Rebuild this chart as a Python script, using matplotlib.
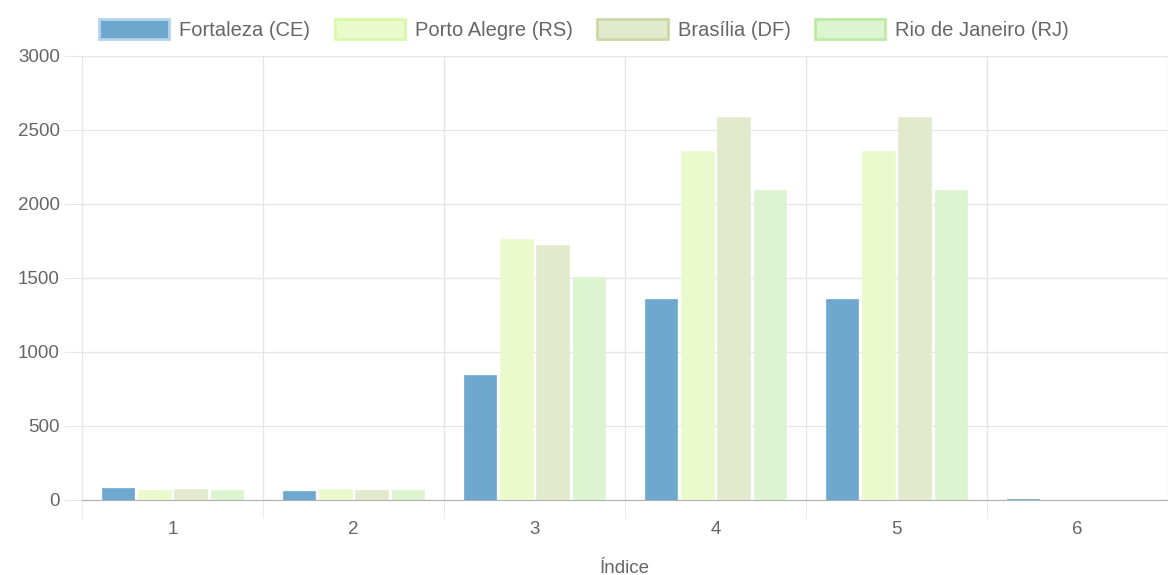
import numpy as np
import matplotlib.pyplot as plt
from matplotlib.patches import Patch

plt.rcParams['font.family'] = ['Liberation Sans', 'DejaVu Sans']

indices = [1, 2, 3, 4, 5, 6]
series = ['Fortaleza (CE)', 'Porto Alegre (RS)', 'Brasília (DF)', 'Rio de Janeiro (RJ)']
fortaleza = [79, 59, 845, 1360, 1360, 10]
porto_alegre = [68, 72, 1765, 2358, 2358, 3]
brasilia = [77, 70, 1725, 2590, 2590, 3]
rio = [66, 70, 1505, 2092, 2092, 3]

fills = ['#6fa8ce', '#ebfacd', '#e2eace', '#dcf4cf']
borders = ['#b3d4ec', '#d9f8a9', '#ccd8a3', '#bfeaa6']
grid_c = '#e6e6e6'
text_c = '#666666'

fig = plt.figure(figsize=(11.68, 5.75), dpi=100)
ax = fig.add_axes([82 / 1168, 75 / 575, 1086 / 1168, 444 / 575])

x = np.array(indices)
group = 0.8
slot = group / len(series)
for k, vals in enumerate([fortaleza, porto_alegre, brasilia, rio]):
    off = -group / 2 + slot * (k + 0.5)
    ax.bar(x + off, vals, width=slot * 0.9, color=fills[k],
           edgecolor=fills[k], linewidth=0.5, zorder=3)

ax.set_xlim(0.5, 6.5)
ax.set_ylim(0, 3000)
ax.set_yticks(np.arange(0, 3001, 500))
ax.set_xticks(indices)
ax.set_xticks(np.arange(0.5, 7, 1), minor=True)

ax.grid(axis='y', color=grid_c, linewidth=1, zorder=0)
ax.grid(axis='x', which='minor', color=grid_c, linewidth=1, zorder=0)
ax.tick_params(axis='y', length=13, color=grid_c, labelsize=13.5, labelcolor=text_c, pad=3)
ax.tick_params(axis='x', which='major', length=0, labelsize=13.5, labelcolor=text_c, pad=15)
ax.tick_params(axis='x', which='minor', length=13, color=grid_c)

for s in ['top', 'right']:
    ax.spines[s].set_visible(False)
ax.spines['left'].set_color(grid_c)
ax.spines['bottom'].set_color('#b0b0b0')

ax.set_xlabel('Índice', fontsize=13.5, color=text_c, labelpad=16)

handles = [Patch(facecolor=fills[k], edgecolor=borders[k], linewidth=2) for k in range(4)]
fig.legend(handles, series, loc='upper center', bbox_to_anchor=(0.5, 0.995), ncol=4,
           frameon=False, fontsize=14.5, labelcolor=text_c, handlelength=3.5,
           handleheight=1.15, handletextpad=0.5, columnspacing=1.2,
           borderaxespad=0.4)

fig.savefig('out.png', dpi=100)
